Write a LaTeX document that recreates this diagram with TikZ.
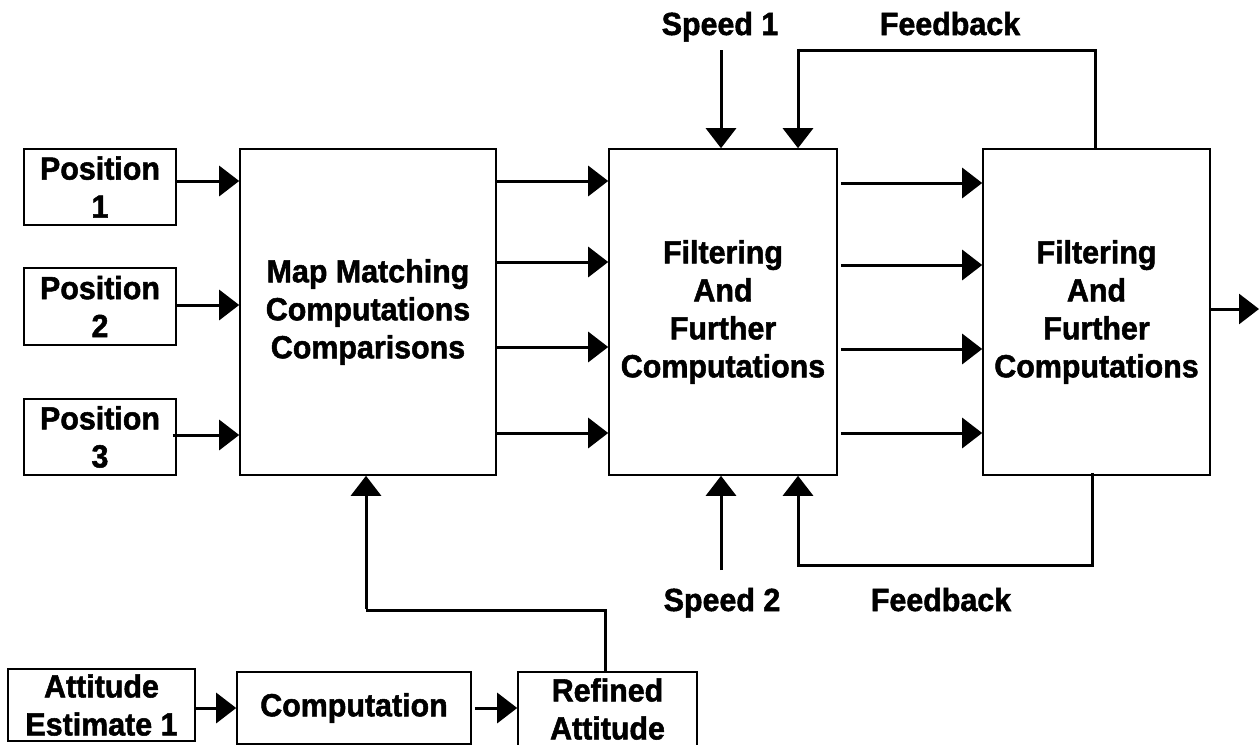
\documentclass[tikz,border=0pt]{standalone}
\usepackage{fontspec}
\setmainfont{Liberation Sans}[BoldFeatures={FakeBold=1.6,FakeStretch=0.95}]
\usetikzlibrary{arrows.meta,calc}
\tikzset{
  blk/.style={draw, line width=1.6pt, inner sep=0pt, align=center,
    font=\fontsize{32}{38}\selectfont\bfseries},
  lbl/.style={inner sep=0pt, anchor=base, font=\fontsize{32}{38}\selectfont\bfseries},
  flow/.style={line width=3pt, -{Triangle[length=20pt,width=30pt]}},
  wire/.style={line width=3pt},
}
\begin{document}
\begin{tikzpicture}[x=1pt,y=-1pt]
\useasboundingbox (0,0) rectangle (1260,744);
% input position boxes
\node[blk, minimum width=152pt, minimum height=76pt] (p1) at (100,187) {Position\\1};
\node[blk, minimum width=152pt, minimum height=77pt] (p2) at (100,306.5) {Position\\2};
\node[blk, minimum width=152pt, minimum height=76pt] (p3) at (100,437) {Position\\3};
% main processing blocks
\node[blk, minimum width=256pt, minimum height=326pt] (mm) at (368,312) {Map Matching\\Computations\\Comparisons};
\node[blk, minimum width=228pt, minimum height=326pt] (f1) at (723,312) {Filtering\\And\\Further\\Computations};
\node[blk, minimum width=227pt, minimum height=326pt] (f2) at (1096.5,312) {Filtering\\And\\Further\\Computations};
% attitude chain
\node[blk, minimum width=187pt, minimum height=72pt] (ae) at (101.5,705) {Attitude\\Estimate 1};
\node[blk, minimum width=234pt, minimum height=72pt] (cp) at (354,708) {Computation};
\node[blk, minimum width=179pt, minimum height=74pt] (ra) at (607.5,709) {Refined\\Attitude};
% labels
\node[lbl] (s1) at (720,35) {Speed 1};
\node[lbl] (fbt) at (950,35) {Feedback};
\node[lbl] (s2) at (722,611) {Speed 2};
\node[lbl] (fbb) at (941,611) {Feedback};
% free ends
\coordinate (s1a) at (721,50);
\coordinate (s2a) at (721,570);
\coordinate (out) at (1259,309);
% positions into map matching
\draw[flow] (p1.east |- 0,181) -- (mm.west |- 0,181);
\draw[flow] (p2.east |- 0,305) -- (mm.west |- 0,305);
\draw[flow] ([xshift=-4pt]p3.east |- 0,435) -- (mm.west |- 0,435);
% map matching to first filter
\foreach \yy in {181,262,347,433}
  \draw[flow] (mm.east |- 0,\yy) -- (f1.west |- 0,\yy);
% first filter to second filter
\foreach \yy in {183,265,349,433}
  \draw[flow] ([xshift=3pt]f1.east |- 0,\yy) -- (f2.west |- 0,\yy);
% output
\draw[flow] (f2.east |- out) -- (out);
% speeds
\draw[flow] (s1a) -- (f1.north -| s1a);
\draw[flow] (s2a) -- (f1.south -| s2a);
% feedback loops
\draw[wire] (f2.north -| 1095,0) -- (1095,50) -- (798,50);
\draw[flow] (798,48.5) -- (f1.north -| 798,0);
\draw[wire] ([yshift=3pt]f2.south -| 1092,0) -- (1092,565) -- (798,565);
\draw[flow] (798,566.5) -- (f1.south -| 798,0);
% attitude chain
\draw[flow] (ae.east) ++(0,3) coordinate (aeo) -- (cp.west |- aeo);
\draw[flow] (cp.east) ++(3,0) coordinate (cpo) -- (ra.west |- cpo);
\draw[wire] (ra.north -| 605,0) -- (605,610) -- (366,610);
\draw[flow] (366,608.5) -- (mm.south -| 366,0);
\end{tikzpicture}
\end{document}
